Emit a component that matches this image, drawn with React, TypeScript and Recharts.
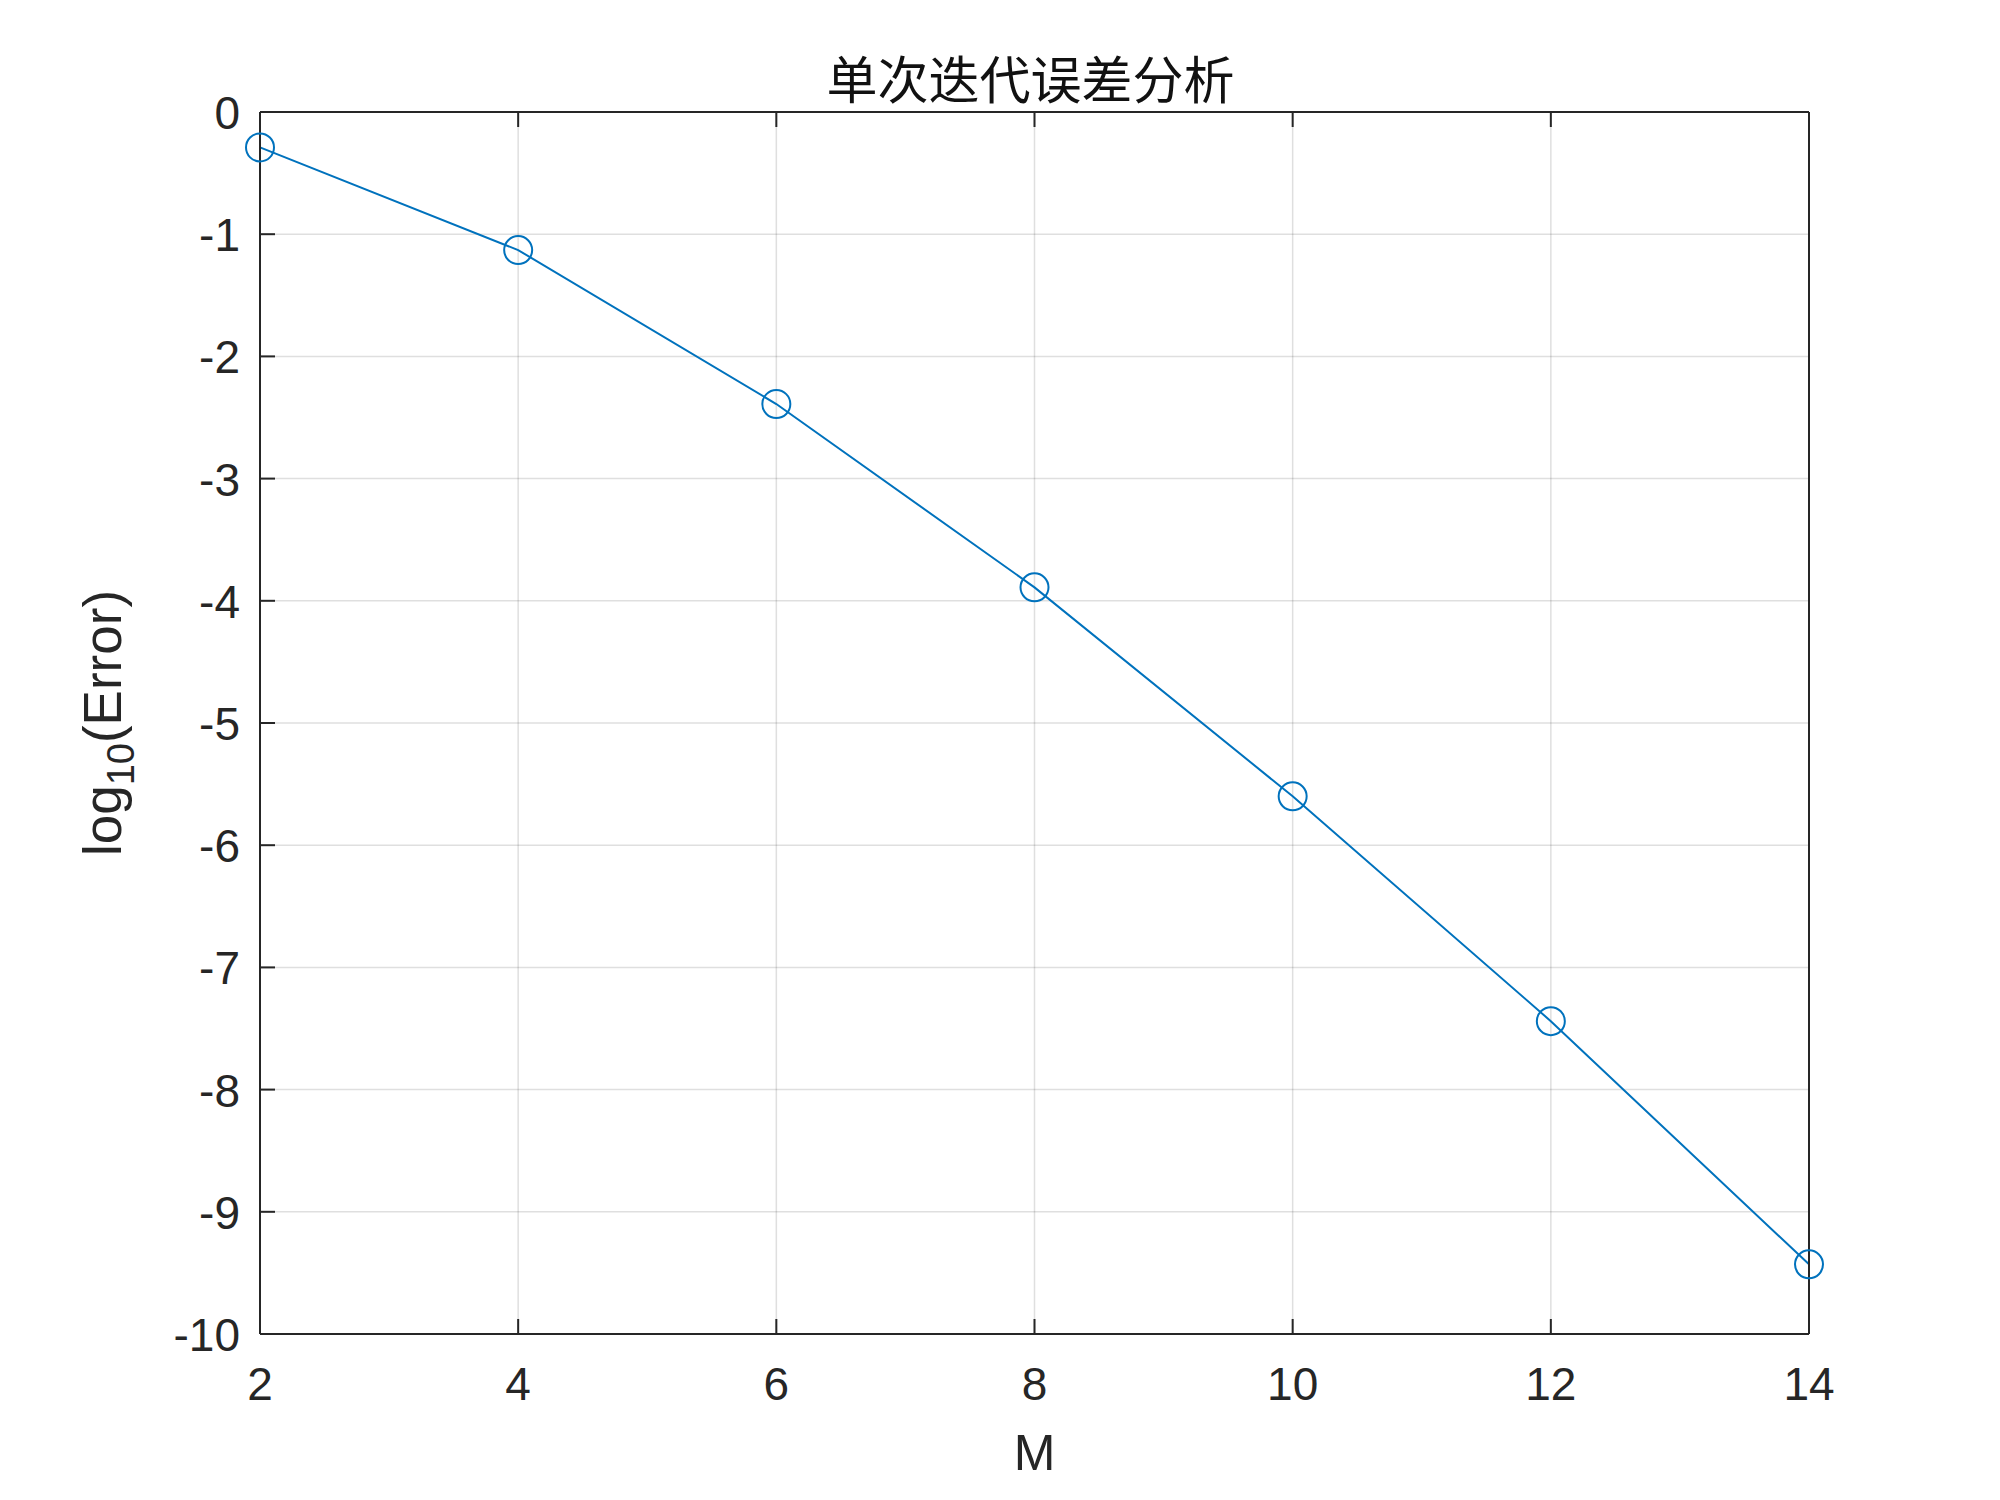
import React from 'react';
import {
  LineChart,
  Line,
  XAxis,
  YAxis,
  CartesianGrid,
  Label,
} from 'recharts';

const mValues = [2, 4, 6, 8, 10, 12, 14];
const logError = [-0.29, -1.13, -2.39, -3.89, -5.6, -7.44, -9.43];
const xTicks = [2, 4, 6, 8, 10, 12, 14];
const yTicks = [0, -1, -2, -3, -4, -5, -6, -7, -8, -9, -10];

const chartTitle = '单次迭代误差分析';
const xTitle = 'M';

const data = mValues.map((m, i) => ({ m, err: logError[i] }));

const axisColor = '#262626';
const lineColor = '#0072BD';
const tickFont = 'Liberation Sans, Arial, Helvetica, sans-serif';
const TICK_LEN = 15;

const BottomTick = (props: any) => {
  const { x, y, payload } = props;
  return (
    <g>
      <line x1={x} y1={y} x2={x} y2={y - TICK_LEN} stroke={axisColor} strokeWidth={2} />
      <text x={x} y={y + 66} textAnchor="middle" fill={axisColor} fontSize={46} fontFamily={tickFont}>
        {payload.value}
      </text>
    </g>
  );
};

const TopTick = (props: any) => {
  const { x, y } = props;
  return <line x1={x} y1={y} x2={x} y2={y + TICK_LEN} stroke={axisColor} strokeWidth={2} />;
};

const LeftTick = (props: any) => {
  const { x, y, payload } = props;
  return (
    <g>
      <line x1={x} y1={y} x2={x + TICK_LEN} y2={y} stroke={axisColor} strokeWidth={2} />
      <text x={x - 20} y={y + 17} textAnchor="end" fill={axisColor} fontSize={46} fontFamily={tickFont}>
        {payload.value}
      </text>
    </g>
  );
};

const RightTick = (props: any) => {
  const { x, y } = props;
  return <line x1={x} y1={y} x2={x - TICK_LEN} y2={y} stroke={axisColor} strokeWidth={2} />;
};

export default function App() {
  return (
    <div style={{ position: 'absolute', top: 0, left: 0, width: 2000, height: 1500, background: '#fff' }}>
      <LineChart
        width={2000}
        height={1500}
        data={data}
        margin={{ top: 111, right: 190, bottom: 165, left: 259 }}
      >
        <CartesianGrid stroke={axisColor} strokeOpacity={0.15} strokeWidth={1.5} />
        <XAxis
          dataKey="m"
          type="number"
          domain={[2, 14]}
          ticks={xTicks}
          interval={0}
          height={1}
          tickSize={0}
          tickMargin={0}
          tick={<BottomTick />}
          axisLine={{ stroke: axisColor, strokeWidth: 2 }}
          tickLine={false}
        >
          <Label
            content={(p: any) => {
              const vb = p.viewBox;
              return (
                <text
                  x={vb.x + vb.width / 2}
                  y={vb.y + 136}
                  textAnchor="middle"
                  fill={axisColor}
                  fontSize={50}
                  fontFamily={tickFont}
                >
                  {xTitle}
                </text>
              );
            }}
          />
        </XAxis>
        <XAxis
          xAxisId="top"
          orientation="top"
          dataKey="m"
          type="number"
          domain={[2, 14]}
          ticks={xTicks}
          interval={0}
          height={1}
          tickSize={0}
          tickMargin={0}
          tick={<TopTick />}
          axisLine={{ stroke: axisColor, strokeWidth: 2 }}
          tickLine={false}
        >
          <Label
            content={(p: any) => {
              const vb = p.viewBox;
              return (
                <text
                  x={vb.x + vb.width / 2 - 4}
                  y={vb.y - 12}
                  textAnchor="middle"
                  fill="#111"
                  fontSize={51}
                  fontFamily="Noto Sans CJK SC, sans-serif"
                >
                  {chartTitle}
                </text>
              );
            }}
          />
        </XAxis>
        <YAxis
          type="number"
          domain={[-10, 0]}
          ticks={yTicks}
          interval={0}
          width={1}
          tickSize={0}
          tickMargin={0}
          tick={<LeftTick />}
          axisLine={{ stroke: axisColor, strokeWidth: 2 }}
          tickLine={false}
        >
          <Label
            content={(p: any) => {
              const vb = p.viewBox;
              const cx = vb.x - 138;
              const cy = vb.y + vb.height / 2;
              return (
                <text
                  x={cx}
                  y={cy}
                  transform={`rotate(-90 ${cx} ${cy})`}
                  textAnchor="middle"
                  fill={axisColor}
                  fontSize={53}
                  fontFamily={tickFont}
                >
                  <tspan>log</tspan>
                  <tspan dy={13} fontSize={38}>10</tspan>
                  <tspan dy={-13}>(Error)</tspan>
                </text>
              );
            }}
          />
        </YAxis>
        <YAxis
          yAxisId="right"
          orientation="right"
          type="number"
          domain={[-10, 0]}
          ticks={yTicks}
          interval={0}
          width={1}
          tickSize={0}
          tickMargin={0}
          tick={<RightTick />}
          axisLine={{ stroke: axisColor, strokeWidth: 2 }}
          tickLine={false}
        />
        <Line
          type="linear"
          dataKey="err"
          stroke={lineColor}
          strokeWidth={2}
          dot={{ r: 14, fill: 'none', stroke: lineColor, strokeWidth: 2 }}
          activeDot={false}
          isAnimationActive={false}
        />
      </LineChart>
    </div>
  );
}
